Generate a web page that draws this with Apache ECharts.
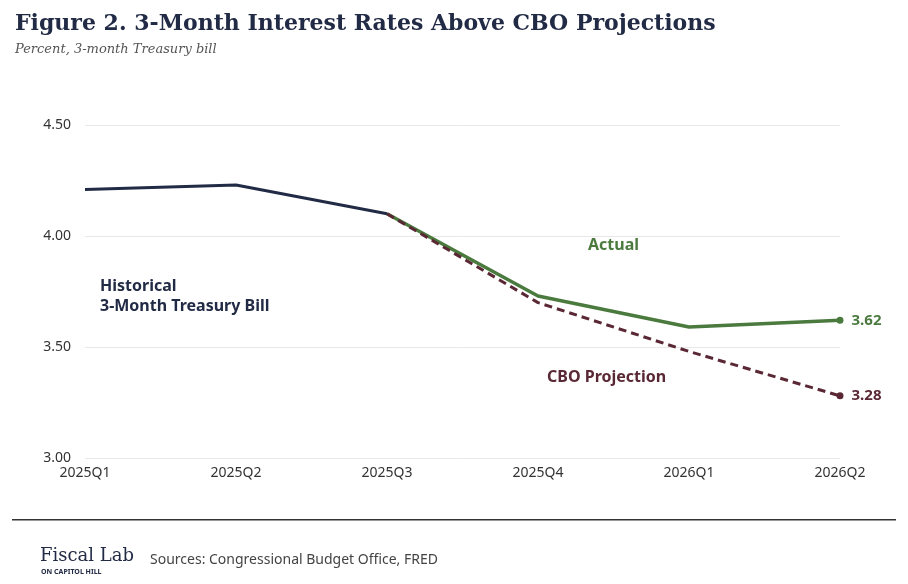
<!DOCTYPE html>
<html>
<head>
<meta charset="utf-8">
<script src="https://cdn.jsdelivr.net/npm/echarts@6/dist/echarts.min.js"></script>
<style>
  html, body { margin: 0; padding: 0; background: #fff; }
  #chart { width: 908px; height: 584px; }
</style>
</head>
<body>
<div id="chart"></div>
<script>
var quarters = ['2025Q1', '2025Q2', '2025Q3', '2025Q4', '2026Q1', '2026Q2'];
var historical = [4.21, 4.23, 4.10, null, null, null];
var actual = [null, null, 4.10, 3.73, 3.59, 3.62];
var cbo = [null, null, 4.10, 3.70, 3.48, 3.28];

var navy = '#222b45', green = '#4b7a3e', maroon = '#5a2834';

// put a marker + label only on the last point
function endLabel(values, color) {
    return values.map(function (v, i) {
        if (i !== values.length - 1) return v;
        return {
            value: v,
            symbol: 'circle', symbolSize: 7,
            itemStyle: { color: color },
            label: {
                show: true, position: 'right', distance: 8,
                formatter: function (p) { return p.value.toFixed(2); },
                color: color, fontSize: 15, fontWeight: 'bold', fontFamily: 'Noto Sans'
            }
        };
    });
}

var option = {
    animation: false,
    title: {
        text: 'Figure 2. 3-Month Interest Rates Above CBO Projections',
        subtext: 'Percent, 3-month Treasury bill',
        left: 10, top: 8,
        textStyle: { fontFamily: 'DejaVu Serif', fontSize: 22, fontWeight: 'bold', color: '#222b45' },
        subtextStyle: { fontFamily: 'DejaVu Serif', fontSize: 13, fontStyle: 'italic', color: '#555' },
        itemGap: 8
    },
    grid: { left: 85, right: 68, top: 125, bottom: 126, containLabel: false },
    xAxis: {
        type: 'category',
        boundaryGap: false,
        data: quarters,
        axisLine: { show: false },
        axisTick: { show: false },
        axisLabel: { color: '#333', fontSize: 14, fontFamily: 'Noto Sans', margin: 8 }
    },
    yAxis: {
        type: 'value',
        min: 3.0, max: 4.5, interval: 0.5,
        axisLabel: {
            color: '#333', fontSize: 14, fontFamily: 'Noto Sans', margin: 14,
            formatter: function (v) { return v.toFixed(2); }
        },
        splitLine: { lineStyle: { color: '#e8e8e8' } }
    },
    series: [
        { name: 'Historical', type: 'line', data: historical, showSymbol: false, symbol: 'none',
          lineStyle: { color: navy, width: 3 }, z: 3 },
        { name: 'Actual', type: 'line', data: endLabel(actual, green), showSymbol: true, symbol: 'none',
          lineStyle: { color: green, width: 3.5 }, z: 2 },
        { name: 'CBO Projection', type: 'line', data: endLabel(cbo, maroon), showSymbol: true, symbol: 'none',
          lineStyle: { color: maroon, width: 3, type: [8, 5] }, z: 2 }
    ],
    graphic: [
        { type: 'text', left: 100, top: 276, style: { text: 'Historical\n3-Month Treasury Bill', fill: navy,
          font: 'bold 16px "Noto Sans"', lineHeight: 20 } },
        { type: 'text', left: 588, top: 237, style: { text: 'Actual', fill: green, font: 'bold 16px "Noto Sans"' } },
        { type: 'text', left: 547, top: 369, style: { text: 'CBO Projection', fill: maroon, font: 'bold 16px "Noto Sans"' } },
        { type: 'rect', left: 12, top: 519, shape: { width: 884, height: 1.5 }, style: { fill: '#333' } },
        { type: 'text', left: 40, top: 547, style: { text: 'Fiscal Lab', fill: '#222b45', font: '18px "DejaVu Serif"' } },
        { type: 'text', left: 41, top: 568, style: { text: 'ON CAPITOL HILL', fill: '#222b45', font: 'bold 7px "Noto Sans"' } },
        { type: 'text', left: 150, top: 553, style: { text: 'Sources: Congressional Budget Office, FRED', fill: '#444', font: '14px "Noto Sans"' } }
    ]
};

var myChart = echarts.init(document.getElementById('chart'));
myChart.setOption(option, true);
</script>
</body>
</html>
